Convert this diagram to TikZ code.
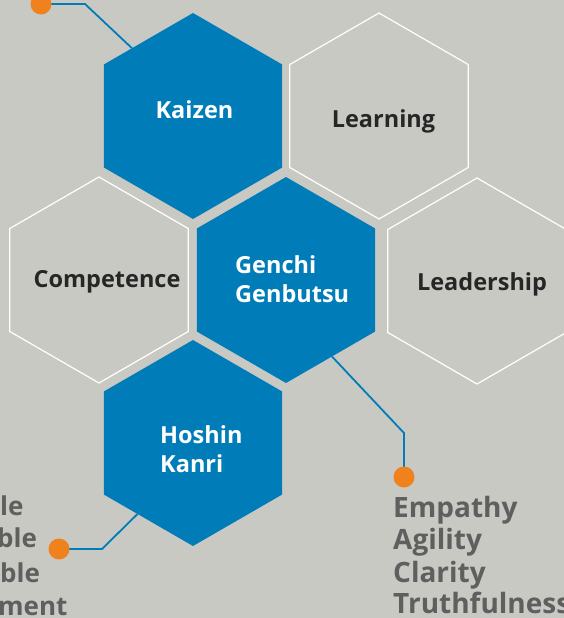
\documentclass[tikz,border=0pt]{standalone}
\usepackage{fontspec}
\setmainfont{Open Sans}
\usetikzlibrary{shapes.geometric}
\definecolor{bgc}{RGB}{201,201,196}
\definecolor{hexblue}{RGB}{0,125,184}
\definecolor{dotorange}{RGB}{240,130,30}
\definecolor{labdark}{RGB}{38,38,38}
\definecolor{listgray}{RGB}{95,95,95}
\pgfdeclarelayer{bg}
\pgfdeclarelayer{lines}
\pgfsetlayers{bg,lines,main}
\tikzset{
  hexfill/.style={regular polygon, regular polygon sides=6, shape border rotate=30,
    minimum size=206pt, inner sep=0pt, outer sep=0pt, fill=hexblue},
  hexline/.style={regular polygon, regular polygon sides=6, shape border rotate=30,
    minimum size=206pt, inner sep=0pt, outer sep=0pt, draw=white, line width=1.2pt},
  dotn/.style={circle, fill=dotorange, minimum size=21pt, inner sep=0pt},
  conn/.style={draw=hexblue, line width=1.8pt},
  lab/.style={font=\fontsize{23.5}{29}\selectfont\bfseries, inner sep=0pt},
  listtxt/.style={font=\fontsize{28}{33}\selectfont\bfseries, text=listgray, inner sep=0pt, anchor=base west},
  frag/.style={font=\fontsize{26}{33}\selectfont\bfseries, text=listgray, inner sep=0pt, anchor=base west}
}
\begin{document}
\begin{tikzpicture}[x=1pt,y=-1pt]
\begin{pgfonlayer}{bg}
\fill[bgc] (0,0) rectangle (564,618);
\end{pgfonlayer}
\useasboundingbox (0,0) rectangle (564,618);
% hexagons
\node[hexfill] (kaizen) at (193,116) {};
\node[hexline] (learning) at (379,116) {};
\node[hexline] (competence) at (99,280) {};
\node[hexfill] (genchi) at (286,280) {};
\node[hexline] (leadership) at (477,281) {};
\node[hexfill] (hoshin) at (193,443) {};
% labels
\node[lab, text=white, anchor=base] (tk) at (194.5,118) {Kaizen};
\node[lab, text=labdark, anchor=base] (tl) at (383.5,127) {Learning};
\node[lab, text=labdark, anchor=base] (tc) at (107,287) {Competence};
\node[lab, text=labdark, anchor=base] (tld) at (482,290) {Leadership};
\node[lab, text=white, anchor=base west] (tg1) at (235,273) {Genchi};
\node[lab, text=white, anchor=base west] (tg2) at (235,302) {Genbutsu};
\node[lab, text=white, anchor=base west] (th1) at (160,443) {Hoshin};
\node[lab, text=white, anchor=base west] (th2) at (160,472) {Kanri};
% dots
\node[dotn] (d1) at (41,4) {};
\node[dotn] (d2) at (59,549) {};
\node[dotn] (d3) at (404,477) {};
\coordinate (b1) at (85,4);
\coordinate (b2) at (102,549);
\coordinate (b3) at (404,433);
\begin{pgfonlayer}{lines}
\draw[conn] (kaizen.132) -- (b1) -- (d1.center);
\draw[conn] (hoshin.232) -- (b2) -- (d2.center);
\draw[conn] (genchi.-59.5) -- (b3) -- (d3.center);
\end{pgfonlayer}
% lists
\node[listtxt] (r1) at (393,517) {Empathy};
\node[listtxt] (r2) at (393,549) {Agility};
\node[listtxt] (r3) at (393,582) {Clarity};
\node[listtxt] (r4) at (393,613) {Truthfulness};
\node[frag] (l1) at (0,515) {le};
\node[frag] (l2) at (-3,547) {ble};
\node[frag] (l3) at (0,582) {ble};
\node[frag] (l4) at (-2,615) {ment};
\end{tikzpicture}
\end{document}
